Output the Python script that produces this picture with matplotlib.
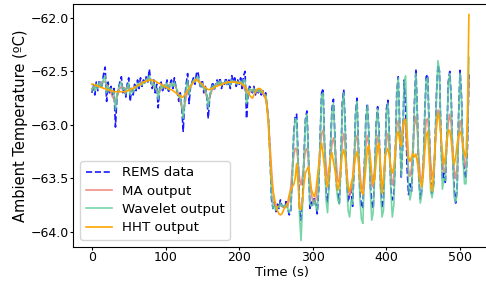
import numpy as np
import matplotlib
matplotlib.use("Agg")
import matplotlib.pyplot as plt

# values, one sample every 2 s (t = 0 ... 512)
rems = [
    -62.70, -62.62, -62.72, -62.60, -62.68, -62.58, -62.66, -62.62, -62.52, -62.46,
    -62.78, -62.60, -62.70, -62.64, -62.72, -62.66, -63.02, -62.74, -62.66, -62.60,
    -62.55, -62.70, -62.64, -62.74, -62.62, -62.56, -62.78, -62.66, -62.72, -62.62,
    -62.68, -62.58, -62.66, -62.56, -62.64, -62.58, -62.62, -62.54, -62.60, -62.48,
    -62.60, -62.66, -62.58, -62.70, -62.62, -62.84, -62.66, -62.60, -62.68, -62.62,
    -62.66, -62.58, -62.70, -62.62, -62.58, -62.66, -62.56, -62.64, -62.70, -62.78,
    -62.70, -62.84, -63.06, -62.76, -62.62, -62.52, -62.80, -62.64, -62.60, -62.56,
    -62.62, -62.52, -62.50, -62.60, -62.66, -62.58, -62.70, -62.64, -62.72, -62.94,
    -62.74, -62.66, -62.60, -62.68, -62.62, -62.58, -62.64, -62.56, -62.66, -62.60,
    -62.62, -62.56, -62.64, -62.58, -62.66, -62.54, -62.60, -62.56, -62.64, -62.58,
    -62.62, -62.56, -62.66, -62.54, -62.50, -62.94, -62.72, -62.64, -62.66, -62.70,
    -62.64, -62.72, -62.66, -62.70, -62.66, -62.72, -62.68, -62.74, -62.70, -62.84,
    -62.97, -63.30, -63.70, -63.78, -63.72, -63.81, -63.74, -63.78, -63.70, -63.76,
    -63.76, -63.78, -63.70, -63.78, -63.84, -63.80, -63.50, -63.10, -62.92, -62.90,
    -63.30, -63.80, -63.89, -63.70, -63.30, -62.95, -62.87, -63.25, -63.78, -63.72,
    -63.76, -63.68, -63.74, -63.83, -63.60, -63.10, -62.70, -62.66, -63.20, -63.65,
    -63.72, -63.55, -63.20, -62.85, -62.76, -63.10, -63.55, -63.65, -63.73, -63.40,
    -62.80, -62.67, -63.00, -63.50, -63.72, -63.65, -63.60, -63.76, -63.40, -62.90,
    -62.75, -63.20, -63.65, -63.75, -63.78, -63.40, -62.95, -62.80, -63.05, -63.55,
    -63.72, -63.78, -63.45, -63.00, -62.83, -63.05, -63.55, -63.78, -63.70, -63.30,
    -62.85, -62.77, -63.10, -63.60, -63.70, -63.67, -63.30, -62.70, -62.55, -63.00,
    -63.50, -63.20, -62.58, -62.80, -63.40, -63.65, -63.55, -63.62, -63.30, -62.80,
    -62.48, -62.90, -63.50, -63.69, -63.60, -63.40, -62.90, -62.55, -62.53, -63.00,
    -63.50, -63.64, -63.55, -63.20, -62.70, -62.44, -62.50, -63.10, -63.51, -63.45,
    -63.55, -63.10, -62.60, -62.50, -62.75, -63.30, -63.60, -63.73, -63.60, -62.90,
    -62.49, -62.75, -63.30, -63.45, -63.50, -63.20, -62.53,
]

ma = [
    -62.66, -62.65, -62.65, -62.64, -62.63, -62.63, -62.62, -62.60, -62.59, -62.60,
    -62.62, -62.64, -62.66, -62.70, -62.74, -62.76, -62.78, -62.74, -62.70, -62.66,
    -62.64, -62.65, -62.66, -62.66, -62.65, -62.66, -62.67, -62.67, -62.66, -62.65,
    -62.64, -62.63, -62.62, -62.61, -62.60, -62.60, -62.59, -62.58, -62.57, -62.57,
    -62.59, -62.61, -62.63, -62.66, -62.68, -62.70, -62.68, -62.66, -62.64, -62.63,
    -62.63, -62.63, -62.63, -62.62, -62.62, -62.62, -62.63, -62.65, -62.68, -62.72,
    -62.78, -62.84, -62.86, -62.82, -62.74, -62.68, -62.66, -62.63, -62.62, -62.60,
    -62.58, -62.57, -62.57, -62.59, -62.62, -62.63, -62.66, -62.70, -62.74, -62.76,
    -62.74, -62.70, -62.66, -62.64, -62.63, -62.62, -62.61, -62.61, -62.61, -62.61,
    -62.61, -62.60, -62.60, -62.60, -62.60, -62.59, -62.59, -62.60, -62.60, -62.60,
    -62.60, -62.60, -62.61, -62.64, -62.68, -62.70, -62.71, -62.70, -62.68, -62.67,
    -62.68, -62.68, -62.68, -62.69, -62.69, -62.70, -62.70, -62.72, -62.76, -62.84,
    -62.98, -63.20, -63.42, -63.62, -63.74, -63.77, -63.76, -63.76, -63.75, -63.76,
    -63.77, -63.77, -63.77, -63.76, -63.70, -63.58, -63.42, -63.30, -63.22, -63.22,
    -63.34, -63.50, -63.56, -63.48, -63.35, -63.24, -63.22, -63.32, -63.50, -63.64,
    -63.72, -63.74, -63.70, -63.60, -63.42, -63.22, -63.08, -63.05, -63.18, -63.38,
    -63.50, -63.46, -63.32, -63.18, -63.12, -63.20, -63.36, -63.52, -63.54, -63.36,
    -63.16, -63.08, -63.20, -63.42, -63.60, -63.66, -63.62, -63.50, -63.30, -63.14,
    -63.10, -63.24, -63.44, -63.60, -63.58, -63.40, -63.20, -63.10, -63.18, -63.38,
    -63.56, -63.58, -63.40, -63.20, -63.10, -63.20, -63.40, -63.56, -63.54, -63.36,
    -63.14, -63.08, -63.22, -63.44, -63.56, -63.50, -63.28, -63.02, -62.96, -63.08,
    -63.14, -63.02, -62.94, -63.02, -63.24, -63.42, -63.48, -63.40, -63.20, -63.00,
    -62.92, -63.06, -63.30, -63.50, -63.52, -63.36, -63.12, -62.96, -62.94, -63.10,
    -63.34, -63.48, -63.44, -63.24, -63.00, -62.86, -62.90, -63.10, -63.34, -63.44,
    -63.40, -63.20, -62.98, -62.90, -63.00, -63.22, -63.42, -63.50, -63.40, -63.14,
    -62.96, -63.02, -63.20, -63.36, -63.40, -63.10, -62.58,
]

wavelet = [
    -62.68, -62.64, -62.68, -62.62, -62.66, -62.60, -62.64, -62.62, -62.57, -62.54,
    -62.70, -62.64, -62.68, -62.66, -62.70, -62.70, -62.86, -62.72, -62.66, -62.62,
    -62.60, -62.67, -62.66, -62.71, -62.64, -62.61, -62.72, -62.67, -62.69, -62.64,
    -62.66, -62.61, -62.64, -62.60, -62.63, -62.60, -62.61, -62.57, -62.59, -62.54,
    -62.59, -62.63, -62.61, -62.66, -62.66, -62.76, -62.67, -62.63, -62.66, -62.63,
    -62.65, -62.61, -62.67, -62.63, -62.61, -62.64, -62.60, -62.64, -62.69, -62.74,
    -62.72, -62.82, -62.94, -62.78, -62.66, -62.58, -62.72, -62.64, -62.61, -62.58,
    -62.60, -62.56, -62.55, -62.60, -62.64, -62.61, -62.67, -62.66, -62.72, -62.84,
    -62.74, -62.67, -62.63, -62.66, -62.63, -62.60, -62.62, -62.59, -62.63, -62.61,
    -62.61, -62.59, -62.62, -62.60, -62.63, -62.58, -62.60, -62.59, -62.62, -62.60,
    -62.61, -62.59, -62.63, -62.58, -62.58, -62.80, -62.72, -62.66, -62.67, -62.69,
    -62.66, -62.70, -62.67, -62.69, -62.67, -62.70, -62.69, -62.72, -62.72, -62.82,
    -62.98, -63.32, -63.66, -63.78, -63.76, -63.80, -63.77, -63.77, -63.73, -63.76,
    -63.76, -63.76, -63.74, -63.78, -63.82, -63.78, -63.52, -63.12, -62.94, -62.95,
    -63.35, -63.85, -64.08, -63.75, -63.32, -62.97, -62.90, -63.28, -63.74, -63.76,
    -63.74, -63.70, -63.76, -63.80, -63.58, -63.12, -62.72, -62.70, -63.22, -63.70,
    -63.82, -63.58, -63.22, -62.88, -62.80, -63.12, -63.58, -63.70, -63.74, -63.42,
    -62.82, -62.70, -63.04, -63.55, -63.80, -63.86, -63.70, -63.74, -63.42, -62.92,
    -62.78, -63.22, -63.70, -63.88, -63.92, -63.45, -62.97, -62.82, -63.08, -63.60,
    -63.89, -63.82, -63.48, -63.02, -62.85, -63.10, -63.62, -63.86, -63.80, -63.35,
    -62.88, -62.80, -63.12, -63.62, -63.86, -63.75, -63.32, -62.72, -62.56, -63.02,
    -63.48, -63.18, -62.60, -62.54, -63.00, -63.55, -63.70, -63.62, -63.32, -62.82,
    -62.52, -62.92, -63.52, -63.73, -63.65, -63.42, -62.92, -62.58, -62.56, -63.05,
    -63.62, -63.68, -63.58, -63.22, -62.72, -62.40, -62.50, -63.12, -63.60, -63.50,
    -63.52, -63.12, -62.62, -62.52, -62.78, -63.32, -63.68, -63.72, -63.62, -62.92,
    -62.52, -62.78, -63.32, -63.55, -63.55, -63.10, -62.37,
]

hht = [
    -62.62, -62.62, -62.63, -62.63, -62.64, -62.64, -62.65, -62.65, -62.66, -62.66,
    -62.67, -62.67, -62.68, -62.68, -62.68, -62.69, -62.69, -62.69, -62.69, -62.69,
    -62.69, -62.69, -62.69, -62.69, -62.68, -62.68, -62.67, -62.66, -62.66, -62.65,
    -62.64, -62.63, -62.63, -62.62, -62.61, -62.60, -62.60, -62.59, -62.59, -62.58,
    -62.58, -62.58, -62.59, -62.59, -62.60, -62.61, -62.61, -62.62, -62.63, -62.64,
    -62.65, -62.65, -62.66, -62.67, -62.67, -62.68, -62.69, -62.70, -62.71, -62.72,
    -62.73, -62.74, -62.74, -62.72, -62.70, -62.68, -62.66, -62.64, -62.62, -62.60,
    -62.58, -62.58, -62.59, -62.60, -62.61, -62.62, -62.64, -62.65, -62.66, -62.67,
    -62.67, -62.66, -62.66, -62.65, -62.64, -62.64, -62.63, -62.63, -62.62, -62.62,
    -62.61, -62.61, -62.60, -62.60, -62.60, -62.60, -62.60, -62.60, -62.60, -62.61,
    -62.61, -62.61, -62.62, -62.63, -62.64, -62.66, -62.69, -62.72, -62.74, -62.75,
    -62.72, -62.69, -62.67, -62.66, -62.66, -62.67, -62.69, -62.72, -62.75, -62.84,
    -63.05, -63.28, -63.50, -63.62, -63.69, -63.75, -63.80, -63.83, -63.84, -63.83,
    -63.80, -63.77, -63.76, -63.72, -63.65, -63.61, -63.58, -63.56, -63.50, -63.36,
    -63.55, -63.78, -63.79, -63.70, -63.55, -63.45, -63.42, -63.39, -63.48, -63.60,
    -63.64, -63.67, -63.62, -63.50, -63.38, -63.25, -63.17, -63.28, -63.40, -63.52,
    -63.58, -63.42, -63.30, -63.26, -63.34, -63.42, -63.52, -63.61, -63.55, -63.40,
    -63.28, -63.23, -63.30, -63.45, -63.58, -63.62, -63.55, -63.50, -63.40, -63.30,
    -63.25, -63.35, -63.50, -63.62, -63.65, -63.55, -63.40, -63.22, -63.19, -63.30,
    -63.45, -63.55, -63.50, -63.35, -63.20, -63.17, -63.40, -63.64, -63.50, -63.30,
    -63.25, -63.22, -63.30, -63.40, -63.45, -63.40, -63.25, -63.10, -63.06, -63.15,
    -63.20, -63.05, -62.96, -62.95, -63.10, -63.30, -63.34, -63.30, -63.27, -63.30,
    -63.27, -63.35, -63.45, -63.52, -63.58, -63.45, -63.25, -63.10, -63.06, -63.30,
    -63.55, -63.62, -63.45, -63.20, -63.00, -62.89, -62.95, -63.10, -63.25, -63.37,
    -63.30, -63.15, -63.05, -63.05, -63.15, -63.28, -63.37, -63.30, -63.18, -63.10,
    -63.06, -63.10, -63.20, -63.27, -63.30, -62.90, -61.97,
]

t = np.arange(0, 2 * len(rems), 2)

fig = plt.figure(figsize=(4.86, 2.81), dpi=100)
# the right edge of the axes runs just past the picture, as in the reference
ax = fig.add_axes([0.150, 0.121, 0.860, 0.865])

ax.plot(t, rems, color="blue", linestyle="--", linewidth=1.2, alpha=0.9, label="REMS data")
ax.plot(t, ma, color="#f07b70", linewidth=1.2, alpha=0.85, label="MA output")
ax.plot(t, wavelet, color="#5fcf96", linewidth=1.2, alpha=0.85, label="Wavelet output")
ax.plot(t, hht, color="orange", linewidth=1.2, label="HHT output")

ax.set_xlim(-25.8, 541.8)
ax.set_ylim(-64.14, -61.87)
ax.set_xticks([0, 100, 200, 300, 400, 500])
ax.set_yticks([-64.0, -63.5, -63.0, -62.5, -62.0])
ax.ticklabel_format(axis="y", useOffset=False)
ax.tick_params(labelsize=9, length=2, pad=1)

ax.set_xlabel("Time (s)", fontsize=9.5, labelpad=1)
ax.set_ylabel("Ambient Temperature (ºC)", fontsize=10.5, labelpad=2)
ax.legend(loc="lower left", fontsize=9.6, labelspacing=0.4, borderpad=0.4,
          handletextpad=0.7, borderaxespad=0.55)

fig.savefig("out.png", dpi=100)
